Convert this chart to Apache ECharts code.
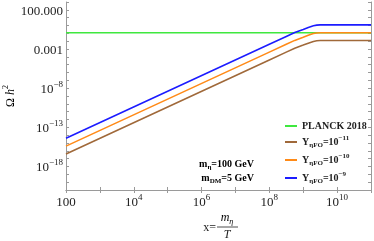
<!DOCTYPE html>
<html><head><meta charset="utf-8">
<script src="https://cdn.jsdelivr.net/npm/echarts@6/dist/echarts.min.js"></script>
<style>html,body{margin:0;padding:0;background:#fff}#c{width:374px;height:241px}</style>
</head><body><div id="c"></div>
<script>
// ---- data ----
const xVals = [1e2, 1e8, 3.16e8, 5.62e8, 1e9, 1.41e9, 2e9, 2.51e9, 3.16e9, 1e11];
const yBlue   = [4e-15, 4e-3, 0.04, 0.126, 0.32, 0.56, 0.93, 1.12, 1.2, 1.2];
const yOrange = [4e-16, 4e-4, 0.004, 0.0126, 0.032, 0.056, 0.093, 0.112, 0.12, 0.12];
const yBrown  = [4e-17, 4e-5, 4e-4, 1.26e-3, 3.2e-3, 5.6e-3, 9.3e-3, 0.0112, 0.012, 0.012];
const planckX = [1e2, 1e11];
const planckY = [0.12, 0.12];
const seriesNames = ['PLANCK 2018', 'Y11', 'Y10', 'Y9'];
const legendLabels = {
  'PLANCK 2018': 'PLANCK 2018',
  'Y11': '{b|Y}{sub|ηFO}{b|=10}{sup|−11}',
  'Y10': '{b|Y}{sub|ηFO}{b|=10}{sup|−10}',
  'Y9':  '{b|Y}{sub|ηFO}{b|=10}{sup|−9}'
};
const xLabelExps = [2, 4, 6, 8, 10];
const yLabelExps = [2, -3, -8, -13, -18];

const zip = (xs, ys) => xs.map((x, i) => [x, ys[i]]);
const SERIF = '"Liberation Serif", "DejaVu Serif", serif';
const frame = '#9a9a9a';

function xFmt(v) {
  const e = Math.round(Math.log10(v));
  if (!xLabelExps.includes(e)) return '';
  if (e === 2) return '{n|100}';
  return '{n|10}{s|' + e + '}';
}
function yFmt(v) {
  const e = Math.round(Math.log10(v));
  if (!yLabelExps.includes(e)) return '';
  if (e === 2) return '{n|100.000}';
  if (e === -3) return '{n|0.001}';
  return '{n|10}{s|−' + (-e) + '}';
}
const tickRich = {
  n: {fontFamily: SERIF, fontSize: 13, color: '#222', lineHeight: 16, verticalAlign: 'bottom'},
  s: {fontFamily: SERIF, fontSize: 9, color: '#222', lineHeight: 16, verticalAlign: 'top'}
};
function mkAxis(extra) {
  return Object.assign({
    type: 'log', logBase: 10, interval: 1,
    axisLine: {show: true, lineStyle: {color: frame, width: 1}},
    axisTick: {show: true, inside: true, length: 3, lineStyle: {color: frame}},
    splitLine: {show: false}
  }, extra);
}

const chart = echarts.init(document.getElementById('c'), null, {renderer: 'canvas'});
const legRich = {
  b: {fontFamily: SERIF, fontWeight: 'bold', fontSize: 10, color: '#222', lineHeight: 14, verticalAlign: 'middle'},
  sub: {fontFamily: SERIF, fontWeight: 'bold', fontSize: 7, color: '#222', lineHeight: 12, verticalAlign: 'bottom'},
  sup: {fontFamily: SERIF, fontWeight: 'bold', fontSize: 7, color: '#222', lineHeight: 14, verticalAlign: 'top'}
};
chart.setOption({
  animation: false,
  grid: {left: 66, right: 3, top: 2, bottom: 51, containLabel: false, outerBoundsMode: 'none'},
  xAxis: [
    mkAxis({position: 'bottom', min: 1e2, max: 1e11,
      axisLabel: {formatter: xFmt, rich: tickRich, margin: 3}}),
    mkAxis({position: 'top', min: 1e2, max: 1e11, axisLabel: {show: false}})
  ],
  yAxis: [
    mkAxis({position: 'left', min: 1e-21, max: 1e3,
      axisLabel: {formatter: yFmt, rich: tickRich, margin: 3}}),
    mkAxis({position: 'right', min: 1e-21, max: 1e3, axisLabel: {show: false}})
  ],
  legend: {
    orient: 'vertical', left: 280, top: 116, itemWidth: 12, itemHeight: 2, itemGap: 4,
    icon: 'rect', data: seriesNames,
    formatter: n => legendLabels[n],
    textStyle: {fontFamily: SERIF, fontWeight: 'bold', fontSize: 10, color: '#222', rich: legRich}
  },
  series: [
    {name: 'PLANCK 2018', type: 'line', data: zip(planckX, planckY), showSymbol: false, color: '#3fe83f', lineStyle: {width: 1.6}},
    {name: 'Y11', type: 'line', data: zip(xVals, yBrown), showSymbol: false, color: '#a0693a', lineStyle: {width: 1.6}},
    {name: 'Y10', type: 'line', data: zip(xVals, yOrange), showSymbol: false, color: '#ff8a17', lineStyle: {width: 1.6}},
    {name: 'Y9', type: 'line', data: zip(xVals, yBlue), showSymbol: false, color: '#1c1cff', lineStyle: {width: 1.6}}
  ],
  graphic: [
    {type: 'text', x: 254, y: 164, style: {text: '{b|m}{sub|η}{b|=100 GeV}', rich: legRich, align: 'right', verticalAlign: 'middle'}},
    {type: 'text', x: 254, y: 178, style: {text: '{b|m}{sub|DM}{b|=5 GeV}', rich: legRich, align: 'right', verticalAlign: 'middle'}},
    {type: 'text', x: 9, y: 96, rotation: Math.PI / 2, style: {
      text: '{o|Ω }{h|h}{s|2}', align: 'center', verticalAlign: 'middle',
      rich: {
        o: {fontFamily: SERIF, fontSize: 12, color: '#222', lineHeight: 15, verticalAlign: 'bottom'},
        h: {fontFamily: SERIF, fontStyle: 'italic', fontSize: 12, color: '#222', lineHeight: 15, verticalAlign: 'bottom'},
        s: {fontFamily: SERIF, fontSize: 8, color: '#222', lineHeight: 15, verticalAlign: 'top'}
      }}},
    {type: 'text', x: 216, y: 228, style: {text: 'x=', fontFamily: SERIF, fontSize: 12, fill: '#222', align: 'right', verticalAlign: 'middle'}},
    {type: 'text', x: 227, y: 219, style: {
      text: '{m|m}{e|η}', align: 'center', verticalAlign: 'middle',
      rich: {
        m: {fontFamily: SERIF, fontStyle: 'italic', fontSize: 12, color: '#222', lineHeight: 14, verticalAlign: 'top'},
        e: {fontFamily: SERIF, fontStyle: 'italic', fontSize: 8, color: '#222', lineHeight: 14, verticalAlign: 'bottom'}
      }}},
    {type: 'line', shape: {x1: 217, y1: 227, x2: 238, y2: 227}, style: {stroke: '#222', lineWidth: 0.8}},
    {type: 'text', x: 227, y: 235, style: {text: 'T', fontFamily: SERIF, fontStyle: 'italic', fontSize: 12, fill: '#222', align: 'center', verticalAlign: 'middle'}}
  ]
});
</script></body></html>
